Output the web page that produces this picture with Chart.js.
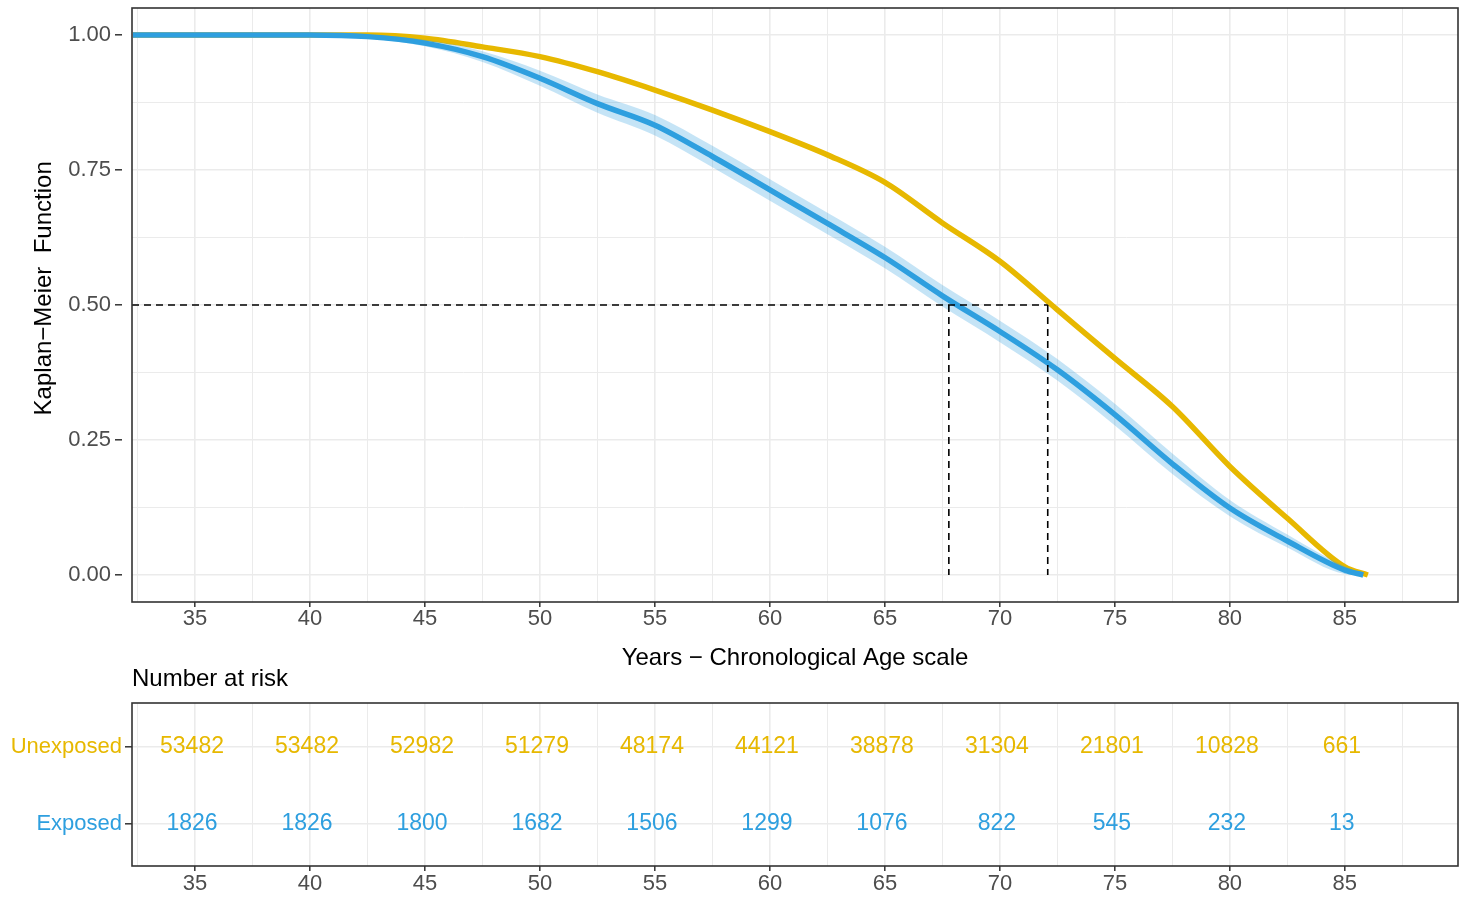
<!DOCTYPE html>
<html>
<head>
<meta charset="utf-8">
<script src="https://cdn.jsdelivr.net/npm/chart.js@4.4.1/dist/chart.umd.min.js"></script>
<style>
  body { margin: 0; background: #fff; }
  #km-chart { position: absolute; left: 0; top: 0; }
  #risk-chart { position: absolute; left: 0; top: 690px; }
</style>
</head>
<body>
<canvas id="km-chart" width="1462" height="690"></canvas>
<canvas id="risk-chart" width="1462" height="214"></canvas>
<script>
// survival curves
const agesExposed   = [32.3, 40, 42.5, 45, 47.5, 50, 52.5, 55, 57.5, 60, 62.5, 65, 67.5, 70, 72.5, 75, 77.5, 80, 82.5, 85, 85.8];
const survExposed   = [1, 1, 0.997, 0.985, 0.960, 0.920, 0.873, 0.833, 0.775, 0.713, 0.651, 0.588, 0.517, 0.451, 0.380, 0.297, 0.206, 0.124, 0.063, 0.009, 0];
const upperExposed  = [1, 1, 1, 0.991, 0.970, 0.934, 0.890, 0.852, 0.795, 0.733, 0.671, 0.608, 0.537, 0.471, 0.400, 0.317, 0.225, 0.139, 0.075, 0.016, 0.003];
const lowerExposed  = [1, 1, 0.994, 0.979, 0.950, 0.906, 0.856, 0.814, 0.755, 0.693, 0.631, 0.568, 0.497, 0.431, 0.360, 0.277, 0.187, 0.109, 0.051, 0.002, 0];

const agesUnexposed = [32.3, 40, 42.5, 45, 47.5, 50, 52.5, 55, 57.5, 60, 62.5, 65, 67.5, 70, 72.5, 75, 77.5, 80, 82.5, 85, 86];
const survUnexposed = [1, 1, 1, 0.994, 0.978, 0.960, 0.932, 0.898, 0.861, 0.821, 0.778, 0.727, 0.652, 0.581, 0.491, 0.401, 0.312, 0.201, 0.105, 0.015, 0];

const medianAges = [67.78, 72.08];   // exposed, unexposed
const medianSurv = 0.5;

// number at risk table
const riskTimes = [35, 40, 45, 50, 55, 60, 65, 70, 75, 80, 85];
const riskUnexposed = [53482, 53482, 52982, 51279, 48174, 44121, 38878, 31304, 21801, 10828, 661];
const riskExposed   = [1826, 1826, 1800, 1682, 1506, 1299, 1076, 822, 545, 232, 13];
const strata = ['Unexposed', 'Exposed'];

// axis ticks
const xMin = 32.26, xMax = 89.92;
const xMajor = [35, 40, 45, 50, 55, 60, 65, 70, 75, 80, 85];
const xMinor = [32.5, 37.5, 42.5, 47.5, 52.5, 57.5, 62.5, 67.5, 72.5, 77.5, 82.5, 87.5];
const yMajor = [0, 0.25, 0.5, 0.75, 1];
const yMinor = [0.125, 0.375, 0.625, 0.875];

const gold = '#E7B800';
const blue = '#2E9FDF';
const FONT = '"Liberation Sans", Arial, sans-serif';
const tickGrey = '#4D4D4D';
const gridGrey = '#EBEBEB';

function pts(xs, ys) {
  return xs.map((x, i) => ({x: x, y: ys[i]}));
}

function setTicks(major, minor) {
  return function(scale) {
    scale.ticks = major.concat(minor).sort((a, b) => a - b).map(v => ({value: v}));
  };
}

// keep chart area where the layout padding says, not pushed by tick labels
function fixWidth(w) {
  return function(s) { s.width = w; s.paddingTop = 0; s.paddingBottom = 0; };
}
function fixHeight(h) {
  return function(s) { s.height = h; s.paddingLeft = 0; s.paddingRight = 0; };
}

const panelBorder = {
  id: 'panelBorder',
  afterDraw(chart) {
    const {ctx, chartArea: a} = chart;
    ctx.save();
    ctx.strokeStyle = '#333333';
    ctx.lineWidth = 1.6;
    ctx.strokeRect(a.left, a.top, a.right - a.left, a.bottom - a.top);
    ctx.restore();
  }
};

const riskHeading = {
  id: 'riskHeading',
  afterDraw(chart) {
    const ctx = chart.ctx;
    ctx.save();
    ctx.font = '24px ' + FONT;
    ctx.fillStyle = '#000';
    ctx.textAlign = 'left';
    ctx.textBaseline = 'middle';
    ctx.fillText('Number at risk', chart.chartArea.left, 679);
    ctx.restore();
  }
};

const dashLine = (data) => ({
  data: data, borderColor: '#000', borderWidth: 1.6, borderDash: [7, 5],
  pointRadius: 0, fill: false, order: 0
});

let kmChart = new Chart(document.getElementById('km-chart'), {
  type: 'line',
  data: {
    datasets: [
      dashLine([{x: xMin, y: medianSurv}, {x: medianAges[1], y: medianSurv}]),
      dashLine([{x: medianAges[0], y: medianSurv}, {x: medianAges[0], y: 0}]),
      dashLine([{x: medianAges[1], y: medianSurv}, {x: medianAges[1], y: 0}]),
      {
        label: 'Exposed',
        data: pts(agesExposed, survExposed),
        borderColor: blue, borderWidth: 5.5, pointRadius: 0,
        cubicInterpolationMode: 'monotone', fill: false, order: 1
      },
      {
        label: 'Exposed upper',
        data: pts(agesExposed, upperExposed),
        borderWidth: 0, pointRadius: 0, cubicInterpolationMode: 'monotone',
        backgroundColor: 'rgba(46,159,223,0.28)', fill: '+1', order: 2
      },
      {
        label: 'Exposed lower',
        data: pts(agesExposed, lowerExposed),
        borderWidth: 0, pointRadius: 0, cubicInterpolationMode: 'monotone',
        fill: false, order: 2
      },
      {
        label: 'Unexposed',
        data: pts(agesUnexposed, survUnexposed),
        borderColor: gold, borderWidth: 5.5, pointRadius: 0,
        cubicInterpolationMode: 'monotone', fill: false, order: 3
      }
    ]
  },
  options: {
    responsive: false,
    animation: false,
    layout: { padding: { left: 0, right: 4, top: 8, bottom: 0 } },
    plugins: { legend: { display: false }, tooltip: { enabled: false } },
    scales: {
      x: {
        type: 'linear', min: xMin, max: xMax,
        afterBuildTicks: setTicks(xMajor, xMinor),
        afterFit: fixHeight(88),
        border: { display: false },
        grid: {
          color: gridGrey,
          lineWidth: c => xMajor.includes(c.tick.value) ? 1.6 : 1,
          tickColor: c => xMajor.includes(c.tick.value) ? '#333' : 'rgba(0,0,0,0)',
          tickLength: 5, tickWidth: 1.5
        },
        ticks: {
          autoSkip: false, maxRotation: 0, padding: 1, color: tickGrey,
          font: { family: FONT, size: 22, lineHeight: 1 },
          callback: v => xMajor.includes(v) ? String(v) : ''
        },
        title: {
          display: true, text: 'Years \u2212 Chronological Age scale', color: '#000',
          font: { family: FONT, size: 24 }, padding: { top: 0, bottom: 17 }
        }
      },
      y: {
        min: -0.05, max: 1.05,
        afterBuildTicks: setTicks(yMajor, yMinor),
        afterFit: fixWidth(132),
        border: { display: false },
        grid: {
          color: gridGrey,
          lineWidth: c => yMajor.includes(c.tick.value) ? 1.6 : 1,
          tickColor: c => yMajor.includes(c.tick.value) ? '#333' : 'rgba(0,0,0,0)',
          tickLength: 17, tickWidth: 1.5, tickBorderDash: [7, 100]
        },
        ticks: {
          autoSkip: false, padding: 4, color: tickGrey,
          font: { family: FONT, size: 22, lineHeight: 1 },
          callback: v => yMajor.includes(v) ? v.toFixed(2) : ''
        },
        title: {
          display: true, text: '     Kaplan\u2212Meier  Function', color: '#000',
          font: { family: FONT, size: 24 }, padding: { top: 30, bottom: 0 }
        }
      }
    }
  },
  plugins: [panelBorder, riskHeading]
});

const riskLabels = {
  id: 'riskLabels',
  afterDatasetsDraw(chart) {
    const ctx = chart.ctx;
    ctx.save();
    ctx.font = '23px ' + FONT;
    ctx.textAlign = 'center';
    ctx.textBaseline = 'middle';
    chart.data.datasets.forEach((ds, i) => {
      ctx.fillStyle = ds.textColor;
      chart.getDatasetMeta(i).data.forEach((p, j) => {
        ctx.fillText(String(ds.counts[j]), p.x - 3, p.y);
      });
    });
    ctx.restore();
  }
};

let riskChart = new Chart(document.getElementById('risk-chart'), {
  type: 'line',
  data: {
    datasets: [
      { label: strata[0], counts: riskUnexposed, textColor: gold, showLine: false, pointRadius: 0,
        data: riskTimes.map(t => ({x: t, y: 1})) },
      { label: strata[1], counts: riskExposed, textColor: blue, showLine: false, pointRadius: 0,
        data: riskTimes.map(t => ({x: t, y: 2})) }
    ]
  },
  options: {
    responsive: false,
    animation: false,
    layout: { padding: { left: 0, right: 4, top: 13, bottom: 0 } },
    plugins: { legend: { display: false }, tooltip: { enabled: false } },
    scales: {
      x: {
        type: 'linear', min: xMin, max: xMax,
        afterBuildTicks: setTicks(xMajor, xMinor),
        afterFit: fixHeight(38),
        border: { display: false },
        grid: {
          color: gridGrey,
          lineWidth: c => xMajor.includes(c.tick.value) ? 1.6 : 1,
          tickColor: c => xMajor.includes(c.tick.value) ? '#333' : 'rgba(0,0,0,0)',
          tickLength: 5, tickWidth: 1.5
        },
        ticks: {
          autoSkip: false, maxRotation: 0, padding: 2, color: tickGrey,
          font: { family: FONT, size: 22, lineHeight: 1 },
          callback: v => xMajor.includes(v) ? String(v) : ''
        }
      },
      y: {
        type: 'linear', min: 0.43, max: 2.55, reverse: true,
        afterBuildTicks: s => { s.ticks = [{value: 1}, {value: 2}]; },
        afterFit: fixWidth(132),
        border: { display: false },
        grid: { color: gridGrey, lineWidth: 1.6, tickColor: '#333', tickLength: 7, tickWidth: 1.5 },
        ticks: {
          autoSkip: false, padding: 3,
          color: c => c.index === 0 ? gold : blue,
          font: { family: FONT, size: 22, lineHeight: 1 },
          callback: v => strata[v - 1]
        }
      }
    }
  },
  plugins: [panelBorder, riskLabels]
});
</script>
</body>
</html>
